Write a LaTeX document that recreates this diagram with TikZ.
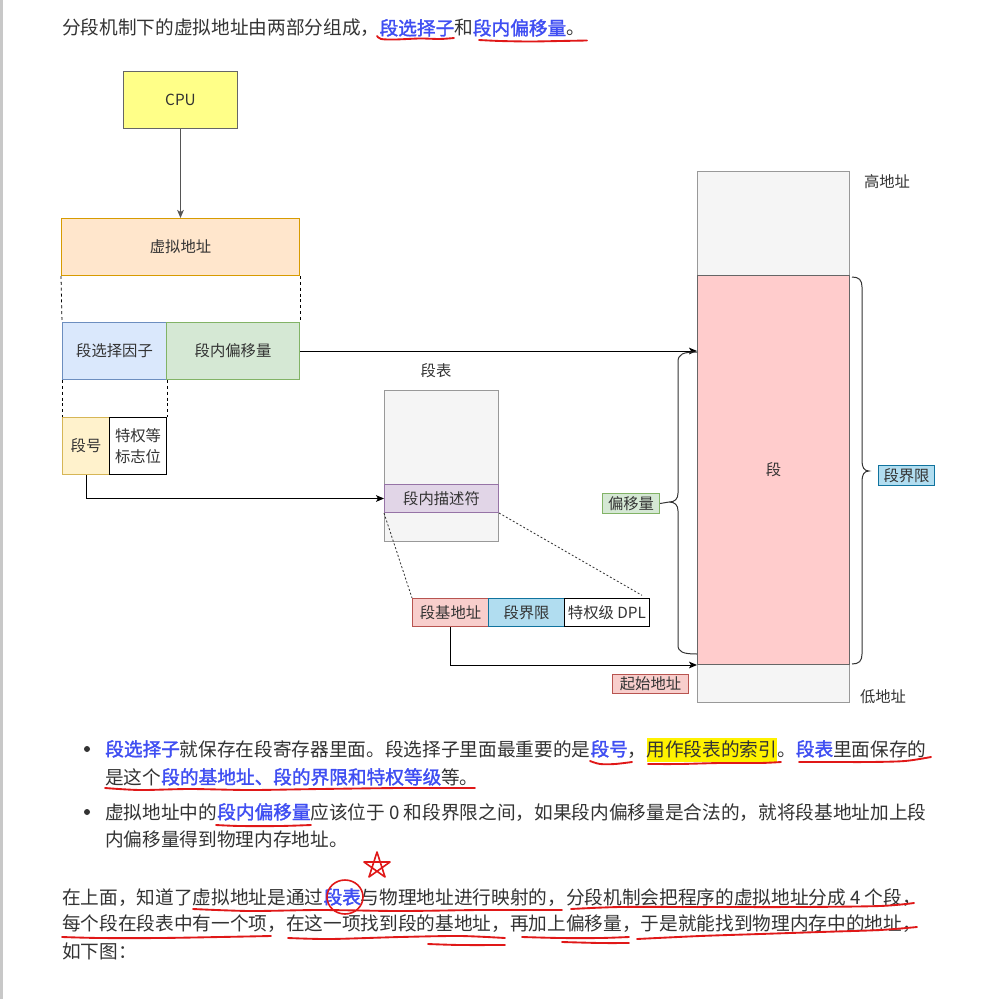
\documentclass[tikz,border=0pt]{standalone}
\usepackage{fontspec}
\setmainfont{Noto Sans CJK SC}[BoldFont=Noto Sans CJK SC, BoldFeatures={FakeBold=1.6}]
\usetikzlibrary{arrows.meta}
\definecolor{txt}{HTML}{333333}
\definecolor{lnk}{HTML}{3F4EF2}
\definecolor{pen}{HTML}{E01818}
\definecolor{cpuY}{HTML}{FFFF88}
\definecolor{vaF}{HTML}{FFE6CC}\definecolor{vaD}{HTML}{D79B00}
\definecolor{blF}{HTML}{DAE8FC}\definecolor{blD}{HTML}{6C8EBF}
\definecolor{grF}{HTML}{D5E8D4}\definecolor{grD}{HTML}{82B366}
\definecolor{ylF}{HTML}{FFF2CC}\definecolor{ylD}{HTML}{D6B656}
\definecolor{gyF}{HTML}{F5F5F5}\definecolor{gyD}{HTML}{999999}
\definecolor{puF}{HTML}{E1D5E7}\definecolor{puD}{HTML}{9673A6}
\definecolor{rdF}{HTML}{F8CECC}\definecolor{rdD}{HTML}{B85450}
\definecolor{cyF}{HTML}{B1DDF0}\definecolor{cyD}{HTML}{10739E}
\definecolor{pkF}{HTML}{FFCCCC}\definecolor{pkD}{HTML}{666666}
\definecolor{arG}{HTML}{555555}
\definecolor{edge}{HTML}{C8C8C8}
\newcommand\bl[1]{\textcolor{lnk}{\bfseries #1}}
\newcommand\hlyel[1]{{\setlength{\fboxsep}{0pt}\colorbox{yellow}{\rule[-4.5pt]{0pt}{18pt}#1}}}
\tikzset{
  body/.style={anchor=base west, inner sep=0pt, font=\fontsize{14}{18}\selectfont},
  dia/.style={font=\fontsize{11.5}{15.5}\selectfont, inner sep=0pt, align=center},
  sz/.style 2 args={minimum width=#1*0.75pt, minimum height=#2*0.75pt},
  box/.style={dia, draw, line width=0.75pt, anchor=north west},
  arr/.style={-{Stealth[length=6pt,width=5pt,inset=1.5pt]}, line width=0.75pt, draw=black},
  dsh/.style={dash pattern=on 2.2pt off 2.2pt, line width=0.6pt, draw=black},
  dotln/.style={dash pattern=on 1.5pt off 1.5pt, line width=0.6pt, draw=txt},
  brc/.style={line width=0.75pt, draw=txt},
  redpen/.style={draw=pen, line width=1.4pt, line cap=round, line join=round},
}
\begin{document}
\begin{tikzpicture}[x=0.75pt,y=-0.75pt, every node/.style={text=txt}]
\fill[white] (0,0) rectangle (993,999);
\useasboundingbox (0,0) rectangle (993,999);
\fill[edge] (0,0) rectangle (3,999);

% ---------- top text ----------
\node[body] (t0) at (62,35) {分段机制下的虚拟地址由两部分组成，\bl{段选择子}和\bl{段内偏移量}。};

% ---------- diagram ----------
\node[box, sz={114}{57}, fill=cpuY, draw=pkD] (cpu) at (123,71) {CPU};
\node[box, sz={238}{57}, fill=vaF, draw=vaD] (va) at (61,218) {虚拟地址};
\node[box, sz={104}{57}, fill=blF, draw=blD] (sel) at (62,322) {段选择因子};
\node[box, sz={133}{57}, fill=grF, draw=grD] (off) at (166,322) {段内偏移量};
\node[box, sz={47}{57}, fill=ylF, draw=ylD] (num) at (62,417) {段号};
\node[box, sz={57}{57}, fill=white, draw=black] (flag) at (109,417) {特权等\\标志位};

\node[dia] (tbllbl) at (436,371) {段表};
\node[box, sz={114}{151}, fill=gyF, draw=gyD] (tbl) at (384,390) {};
\node[box, sz={114}{28}, fill=puF, draw=puD] (desc) at (384,484) {段内描述符};
\node[box, sz={76}{28}, fill=rdF, draw=rdD] (base) at (412,598) {段基地址};
\node[box, sz={76}{28}, fill=cyF, draw=cyD] (lim) at (488,598) {段界限};
\node[box, sz={85}{28}, fill=white, draw=black] (dpl) at (564,598) {特权级 DPL};

\node[box, sz={152}{104}, fill=gyF, draw=gyD] (mtop) at (697,171) {};
\node[box, sz={152}{38}, fill=gyF, draw=gyD] (mbot) at (697,664) {};
\node[box, sz={152}{389}, fill=pkF, draw=pkD] (seg) at (697,275) {段};

\node[dia] (hi) at (887,182) {高地址};
\node[dia] (lo) at (883,697) {低地址};
\node[box, sz={56}{20}, fill=cyF, draw=cyD] (limlbl) at (878,465) {段界限};
\node[box, sz={57}{20}, fill=grF, draw=grD] (offlbl) at (602,493) {偏移量};
\node[box, sz={76}{19}, fill=rdF, draw=rdD] (startlbl) at (612,674) {起始地址};

% connectors
\draw[arr, draw=arG, line width=1pt] (cpu) -- (va);
\draw[dsh] (va.south west) -- (sel.north west);
\draw[dsh] (va.south east) -- (off.north east);
\draw[dsh] (sel.south west) -- (num.north west);
\draw[dsh] (sel.south east) -- (flag.north east);
\draw[arr] (num.south) |- (desc.west);
\draw[arr] (off.east) -- (off.east -| seg.west);
\draw[dotln] (desc.south west) -- (base.north west);
\draw[dotln] (desc.south east) -- ([xshift=-6pt,yshift=2pt]dpl.north east);
\draw[arr] (base.south) |- (seg.south west);

% braces
\draw[brc] (852,277) .. controls (859,277) and (862,280) .. (862,287) -- (862,461)
  .. controls (862,467) and (864,471) .. (869,471)
  .. controls (864,471) and (862,475) .. (862,481) -- (862,654)
  .. controls (862,661) and (859,664) .. (852,664);
\draw[brc] (697,352) .. controls (683,352) and (678,354) .. (678,362) -- (678,493)
  .. controls (678,499) and (675,502) .. (669,502) -- (offlbl.east)
  (669,502) .. controls (675,502) and (678,505) .. (678,511) -- (678,645)
  .. controls (678,652) and (683,654) .. (697,654);

% ---------- bullets ----------
\fill[txt] (87,749) circle[radius=3];
\fill[txt] (87,812) circle[radius=3];
\node[body] (b1a) at (105,756) {\bl{段选择子}就保存在段寄存器里面。段选择子里面最重要的是\bl{段号}，\hlyel{用作段表的索引}。\bl{段表}里面保存的};
\node[body] (b1b) at (105,784) {是这个\bl{段的基地址、段的界限和特权等级}等。};
\node[body] (b2a) at (105,819) {虚拟地址中的\bl{段内偏移量}应该位于 0 和段界限之间，如果段内偏移量是合法的，就将段基地址加上段};
\node[body] (b2b) at (105,846) {内偏移量得到物理内存地址。};

% ---------- paragraph ----------
\node[body] (p1) at (62,904) {在上面，知道了虚拟地址是通过\bl{段表}与物理地址进行映射的，分段机制会把程序的虚拟地址分成 4 个段，};
\node[body] (p2) at (62,930) {每个段在段表中有一个项，在这一项找到段的基地址，再加上偏移量，于是就能找到物理内存中的地址，};
\node[body] (p3) at (62,958) {如下图：};

% ---------- red pen annotations ----------
\draw[redpen] plot[smooth] coordinates {(377,36) (381,39) (395,39.5) (420,38.5) (440,39) (454,38)};
\draw[redpen] plot[smooth] coordinates {(479,40) (500,41) (530,41.5) (560,41) (587,40.5)};
\draw[redpen] plot[smooth] coordinates {(590,761) (600,764) (615,764) (632,762)};
\draw[redpen] plot[smooth] coordinates {(648,764) (680,764) (720,763) (760,763) (781,762)};
\draw[redpen] plot[smooth] coordinates {(799,762) (830,762) (870,762) (905,761) (931,757)};
\draw[redpen] plot[smooth] coordinates {(105,788) (140,790) (190,789) (250,790) (320,789) (400,788) (475,788)};
\draw[redpen] plot[smooth] coordinates {(216,825) (240,826) (280,826) (311,825)};
\draw[redpen] plot[smooth] coordinates {(193,909) (250,911) (320,910) (400,911) (480,910) (562,910)};
\draw[redpen] plot[smooth] coordinates {(571,909) (620,907) (700,907) (800,907) (880,906) (914,903)};
\draw[redpen] plot[smooth] coordinates {(62,937) (100,938) (160,938) (220,937) (271,936)};
\draw[redpen] plot[smooth] coordinates {(288,938) (330,939) (400,937) (460,936) (505,938)};
\draw[redpen] plot[smooth] coordinates {(428,944) (460,945) (505,945)};
\draw[redpen] plot[smooth] coordinates {(522,937) (560,938) (600,938) (629,937)};
\draw[redpen] plot[smooth] coordinates {(562,942) (600,943) (629,943)};
\draw[redpen] plot[smooth] coordinates {(637,939) (700,936) (760,934) (820,932) (880,930) (917,927)};
\draw[redpen, line width=1.2pt] (377,852) -- (385,877) -- (364,862) -- (390,862) -- (369,877) -- cycle;
\draw[redpen, line width=1.2pt] (345,897) ellipse [x radius=18, y radius=17];
\end{tikzpicture}
\end{document}
